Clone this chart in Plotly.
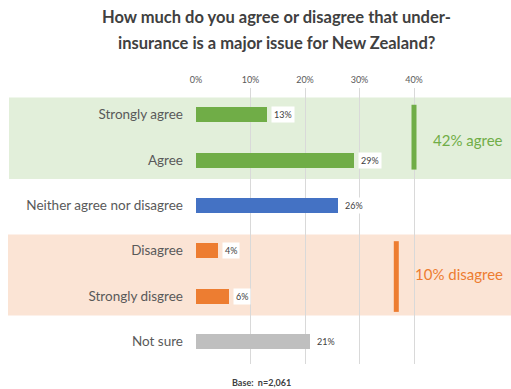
import plotly.graph_objects as go

# Survey responses
categories = ["Strongly agree", "Agree", "Neither agree nor disagree",
              "Disagree", "Strongly disgree", "Not sure"]
values = [13, 29, 26, 4, 6, 21]
bar_colors = ["#70AD47", "#70AD47", "#4472C4", "#ED7D31", "#ED7D31", "#BFBFBF"]

tick_vals = [0, 10, 20, 30, 40]
tick_text = ["0%", "10%", "20%", "30%", "40%"]

# Net groupings
agree_total = 42
disagree_total = 10

title_lines = ["How much do you agree or disagree that under-",
               "insurance is a major issue for New Zealand?"]
base_note = "Base:  n=2,061"

FONT = "Lato"
TEXT_GREY = "#595959"
DARK_GREY = "#404040"

# Plot-area geometry (pixels)
W, H = 511, 389
LEFT, TOP, BOTTOM = 196, 88, 364
PLOT_W = W - LEFT
PLOT_H = BOTTOM - TOP
PX_PER_PCT = 5.45


def px_x(px):
    """Horizontal pixel -> paper fraction of the plot area."""
    return (px - LEFT) / PLOT_W


def px_y(px):
    """Vertical pixel (from top) -> paper fraction of the plot area."""
    return (BOTTOM - px) / PLOT_H


fig = go.Figure()
fig.add_trace(go.Bar(
    y=categories, x=values, orientation="h",
    marker=dict(color=bar_colors, line=dict(width=0)),
    width=0.33, hoverinfo="skip", showlegend=False,
))

annotations = []

# Value labels in a white box just past each bar end
for cat, v in zip(categories, values):
    annotations.append(dict(
        x=v, y=cat, xref="x", yref="y", text=f"{v}%", showarrow=False,
        xanchor="left", xshift=4, bgcolor="white", borderpad=2,
        font=dict(family=FONT, size=9, color=DARK_GREY),
    ))

# Group summaries
annotations.append(dict(
    x=px_x(468), y=0.55, xref="paper", yref="y",
    text=f"{agree_total}% agree", showarrow=False, xanchor="center",
    font=dict(family=FONT, size=15, color="#70AD47"),
))
annotations.append(dict(
    x=px_x(459), y=3.52, xref="paper", yref="y",
    text=f"{disagree_total}% disagree", showarrow=False, xanchor="center",
    font=dict(family=FONT, size=15, color="#ED7D31"),
))

# Two-line title
for line, row in zip(title_lines, [17, 43]):
    annotations.append(dict(
        x=px_x(276), y=px_y(row), xref="paper", yref="paper",
        text=f"<b>{line}</b>", showarrow=False,
        xanchor="center", yanchor="middle",
        font=dict(family=FONT, size=16.5, color=DARK_GREY),
    ))

# Sample size note
annotations.append(dict(
    x=px_x(261), y=px_y(382), xref="paper", yref="paper",
    text=f"<b>{base_note}</b>", showarrow=False,
    xanchor="center", yanchor="middle",
    font=dict(family=FONT, size=9, color=DARK_GREY),
))

shapes = [
    # Shaded group bands
    dict(type="rect", xref="paper", yref="y", x0=px_x(9), x1=1,
         y0=-0.38, y1=1.42, fillcolor="#E2EFDA", line=dict(width=0), layer="below"),
    dict(type="rect", xref="paper", yref="y", x0=px_x(8), x1=1,
         y0=2.64, y1=4.43, fillcolor="#FBE4D5", line=dict(width=0), layer="below"),
    # Bracket bars beside each group
    dict(type="line", xref="x", yref="y", x0=40, x1=40, y0=-0.22, y1=1.21,
         line=dict(color="#70AD47", width=5)),
    dict(type="line", xref="x", yref="y", x0=36.75, x1=36.75, y0=2.79, y1=4.35,
         line=dict(color="#ED7D31", width=5)),
]

fig.update_layout(
    width=W, height=H,
    margin=dict(l=LEFT, r=0, t=TOP, b=H - BOTTOM),
    paper_bgcolor="white", plot_bgcolor="rgba(0,0,0,0)",
    font=dict(family=FONT, color=TEXT_GREY),
    annotations=annotations, shapes=shapes, bargap=0,
)
fig.update_xaxes(
    side="top", range=[0, PLOT_W / PX_PER_PCT],
    tickvals=tick_vals, ticktext=tick_text,
    showgrid=True, gridcolor="#D9D9D9", gridwidth=1, zeroline=False,
    showline=False, ticks="", tickfont=dict(family=FONT, size=9, color=TEXT_GREY),
    ticklabelstandoff=2, fixedrange=True,
)
fig.update_yaxes(
    type="category", categoryorder="array", categoryarray=categories,
    range=[5.5, -0.59], showgrid=False, zeroline=False, showline=False,
    ticks="", ticklabelstandoff=12,
    tickfont=dict(family=FONT, size=13.5, color=TEXT_GREY), fixedrange=True,
)

fig.write_html("out.html")
